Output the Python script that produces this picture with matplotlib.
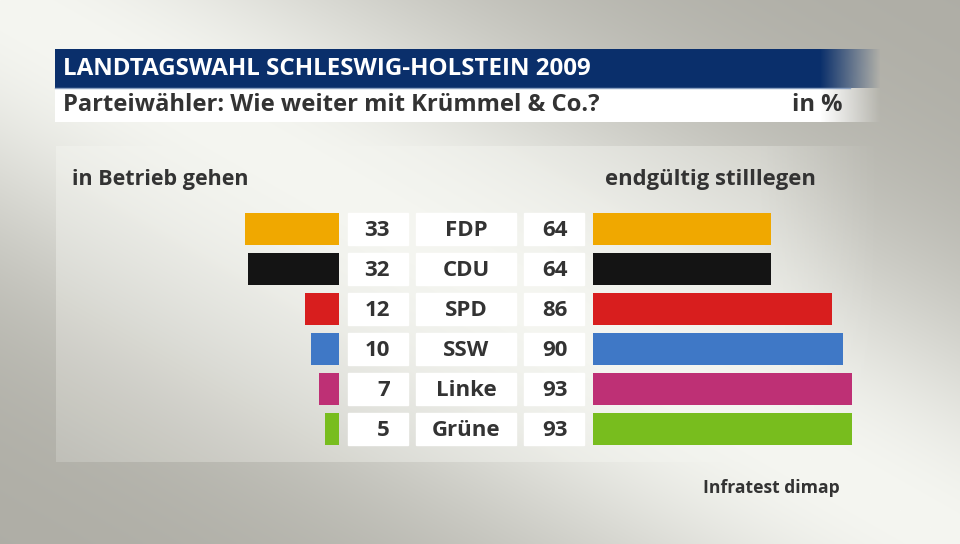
import numpy as np
import matplotlib.pyplot as plt
from matplotlib.colors import to_rgb

plt.rcParams['font.family'] = ['Open Sans', 'DejaVu Sans']

# Daten
parteien = ['FDP', 'CDU', 'SPD', 'SSW', 'Linke', 'Grüne']
betrieb = [33, 32, 12, 10, 7, 5]
stilllegen = [64, 64, 86, 90, 93, 93]
farben = ['#f0a800', '#141414', '#d81e1e', '#3f78c6', '#be3075', '#78bd1e']

W, H = 960, 544
fig = plt.figure(figsize=(9.6, 5.44), dpi=100)

# Hintergrund (Pixelkoordinaten)
bg = fig.add_axes([0, 0, 1, 1])
bg.set_xlim(0, W)
bg.set_ylim(H, 0)
bg.axis('off')

light = np.array(to_rgb('#f5f6f1'))
dark = np.array(to_rgb('#aeada5'))
yy, xx = np.mgrid[0:H, 0:W]
d = (xx * H - yy * W) / np.hypot(W, H)  # Abstand zur Diagonale
v = np.exp(-(d / 225.0) ** 2)
img = dark + (light - dark) * v[..., None]
bg.imshow(img, extent=[0, W, H, 0], aspect='auto', zorder=0)

# helleres Feld
px0, px1, py0, py1 = 56, 880, 146, 462
sub_y, sub_x = np.mgrid[py0:py1, px0:px1]
dd = (sub_x * H - sub_y * W) / np.hypot(W, H)
vv = np.exp(-(dd / 330.0) ** 2)
fade = np.clip((880 - sub_x) / 120.0, 0, 1)
panel = dark + (light - dark) * vv[..., None]
alpha = (0.9 * fade)[..., None]
rgba = np.concatenate([panel, alpha], axis=2)
bg.imshow(rgba, extent=[px0, px1, py1, py0], aspect='auto', zorder=1)

# Titelbalken mit Ausblendung rechts
def band(y0, y1, color, zorder):
    xs = np.arange(55, 880)
    a = np.clip((880 - xs) / 60.0, 0, 1)
    c = np.array(to_rgb(color))
    arr = np.zeros((1, len(xs), 4))
    arr[0, :, :3] = c
    arr[0, :, 3] = a
    bg.imshow(arr, extent=[55, 880, y1, y0], aspect='auto', zorder=zorder)

band(49, 88, '#0a2f6b', 2)
band(88, 122, '#ffffff', 2)
bg.plot([55, 850], [88, 88], color='#8aa0c0', lw=1, zorder=3)

txt = '#333333'
bg.text(63, 69, 'LANDTAGSWAHL SCHLESWIG-HOLSTEIN 2009', color='white',
        fontsize=17.4, fontweight='bold', va='center', ha='left', zorder=4)
bg.text(63, 105, 'Parteiwähler: Wie weiter mit Krümmel & Co.?', color=txt,
        fontsize=17.1, fontweight='bold', va='center', ha='left', zorder=4)
bg.text(842, 105, 'in %', color=txt, fontsize=17.1, fontweight='bold',
        va='center', ha='right', zorder=4)

bg.text(72, 180, 'in Betrieb gehen', color=txt, fontsize=15.5,
        fontweight='bold', va='center', ha='left', zorder=4)
bg.text(605, 180, 'endgültig stilllegen', color=txt, fontsize=15.8,
        fontweight='bold', va='center', ha='left', zorder=4)
bg.text(840, 488, 'Infratest dimap', color=txt, fontsize=12.6,
        fontweight='bold', va='center', ha='right', zorder=4)

# Boxen und Beschriftungen
for i, (p, a, b) in enumerate(zip(parteien, betrieb, stilllegen)):
    yc = 229 + 40 * i
    for x0, x1 in [(348, 408), (416, 516), (524, 584)]:
        bg.add_patch(plt.Rectangle((x0, yc - 16), x1 - x0, 32, color='white', zorder=3))
    bg.text(390, yc + 1, str(a), ha='right', va='center', fontsize=16,
            fontweight='bold', color=txt, zorder=4)
    bg.text(466, yc + 1, p, ha='center', va='center', fontsize=16,
            fontweight='bold', color=txt, zorder=4)
    bg.text(568, yc + 1, str(b), ha='right', va='center', fontsize=16,
            fontweight='bold', color=txt, zorder=4)

# Balken
ax_b = (H - 449) / H
ax_h = 240 / H
left = fig.add_axes([55 / W, ax_b, 284 / W, ax_h])
right = fig.add_axes([593 / W, ax_b, 278 / W, ax_h])
y = np.arange(len(parteien))
left.barh(y, betrieb, height=0.8, color=farben)
right.barh(y, stilllegen, height=0.8, color=farben)
left.set_xlim(100, 0)
right.set_xlim(0, 100)
for ax in (left, right):
    ax.set_ylim(5.5, -0.5)
    ax.axis('off')
    ax.patch.set_alpha(0)

fig.savefig('out.png', dpi=100)
